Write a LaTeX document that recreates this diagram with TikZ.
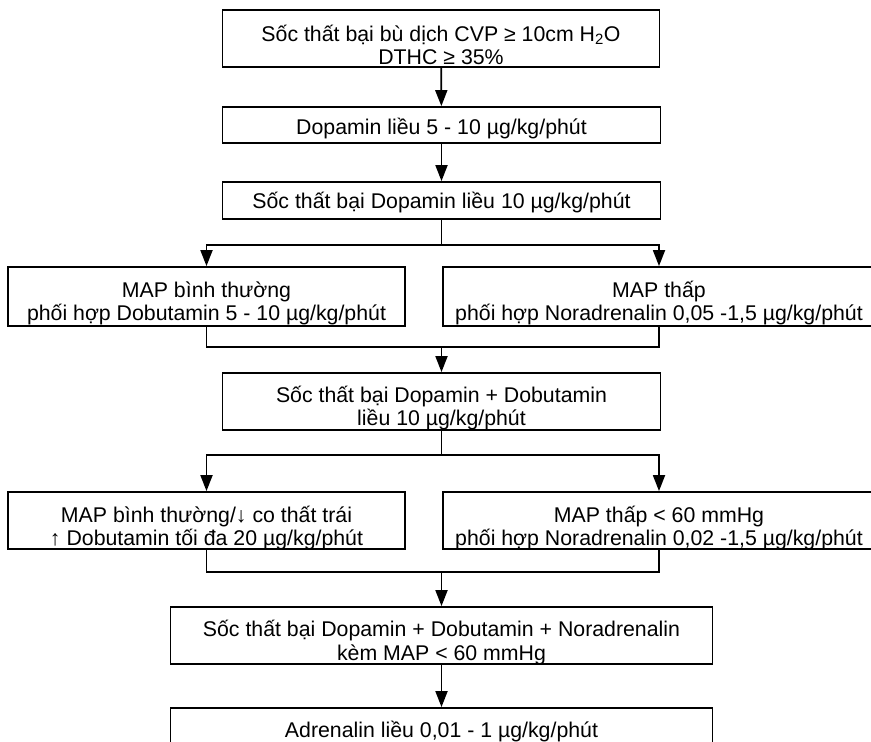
\documentclass[tikz,border=0pt]{standalone}
\usepackage{fontspec}
\setmainfont{Liberation Sans}
\usetikzlibrary{arrows.meta}
\begin{document}
\begin{tikzpicture}[x=1pt,y=-1pt,
  box/.style={draw, rectangle, line width=1.8pt, inner sep=0pt},
  ln/.style={anchor=base, inner sep=0pt, font=\fontsize{21.3}{24}\selectfont},
  wire/.style={line width=1.8pt},
  arr/.style={wire, -{Triangle[length=16pt,width=12pt]}}]
\clip (0,0) rectangle (871,742);

% boxes
\node[box, minimum width=437pt, minimum height=57pt] (b1) at (441,38.5) {};
\node[box, minimum width=438pt, minimum height=36pt] (b2) at (441.5,125) {};
\node[box, minimum width=438pt, minimum height=37pt] (b3) at (441.5,200.5) {};
\node[box, minimum width=397pt, minimum height=59pt] (l1) at (206.5,296.5) {};
\node[box, minimum width=432pt, minimum height=59pt] (r1) at (659,296.5) {};
\node[box, minimum width=438pt, minimum height=57pt] (b4) at (441.5,401.5) {};
\node[box, minimum width=397pt, minimum height=57pt] (l2) at (206.5,520.5) {};
\node[box, minimum width=432pt, minimum height=57pt] (r2) at (659,520.5) {};
\node[box, minimum width=542pt, minimum height=57pt] (b5) at (441.5,635.5) {};
\node[box, minimum width=542pt, minimum height=60pt] (b6) at (441.5,738) {};

% texts
\node[ln] (t1a) at (b1 |- 0,41) {Sốc thất bại bù dịch CVP ≥ 10cm H\textsubscript{2}O};
\node[ln] (t1b) at (b1 |- 0,64) {DTHC ≥ 35\%};
\node[ln] (t2) at (b2 |- 0,134) {Dopamin liều 5 - 10 µg/kg/phút};
\node[ln] (t3) at (b3 |- 0,208) {Sốc thất bại Dopamin liều 10 µg/kg/phút};
\node[ln] (tl1a) at (l1 |- 0,297) {MAP bình thường};
\node[ln] (tl1b) at (l1 |- 0,320) {phối hợp Dobutamin 5 - 10 µg/kg/phút};
\node[ln] (tr1a) at (r1 |- 0,297) {MAP thấp};
\node[ln] (tr1b) at (r1 |- 0,320) {phối hợp Noradrenalin 0,05 -1,5 µg/kg/phút};
\node[ln] (t4a) at (b4 |- 0,402) {Sốc thất bại Dopamin + Dobutamin};
\node[ln] (t4b) at (b4 |- 0,425) {liều 10 µg/kg/phút};
\node[ln] (tl2a) at (l2 |- 0,522) {MAP bình thường/↓ co thất trái};
\node[ln] (tl2b) at (l2 |- 0,545) {↑ Dobutamin tối đa 20 µg/kg/phút};
\node[ln] (tr2a) at (r2 |- 0,522) {MAP thấp < 60 mmHg};
\node[ln] (tr2b) at (r2 |- 0,545) {phối hợp Noradrenalin 0,02 -1,5 µg/kg/phút};
\node[ln] (t5a) at (b5 |- 0,636) {Sốc thất bại Dopamin + Dobutamin + Noradrenalin};
\node[ln] (t5b) at (b5 |- 0,660) {kèm MAP < 60 mmHg};
\node[ln] (t6) at (b6 |- 0,737) {Adrenalin liều 0,01 - 1 µg/kg/phút};

% split and merge points
\coordinate (s1) at (441.5,245);
\coordinate (m1) at (441.5,347);
\coordinate (s2) at (441.5,455);
\coordinate (m2) at (441.5,572);

% connectors
\draw[arr] (b1) -- (b2);
\draw[arr] (b2) -- (b3);
\draw[wire] (b3.south) -- (s1);
\draw[arr] (s1) -| (l1.north);
\draw[arr] (s1) -| (r1.north);
\draw[wire] (l1.south) |- (m1) -| (r1.south);
\draw[arr] (m1) -- (b4.north);
\draw[wire] (b4.south) -- (s2);
\draw[arr] (s2) -| (l2.north);
\draw[arr] (s2) -| (r2.north);
\draw[wire] (l2.south) |- (m2) -| (r2.south);
\draw[arr] (m2) -- (b5.north);
\draw[arr] (b5) -- (b6);
\end{tikzpicture}
\end{document}
